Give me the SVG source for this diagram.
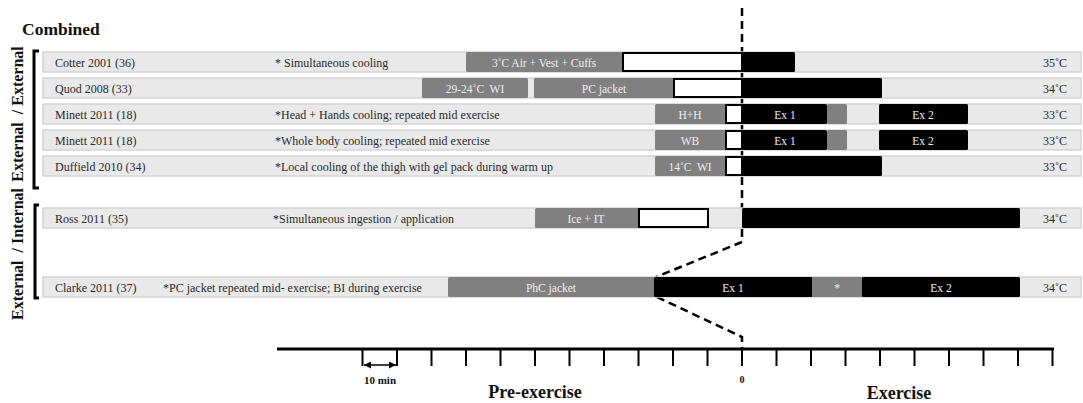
<svg xmlns="http://www.w3.org/2000/svg" width="1083" height="403" viewBox="0 0 1083 403">
<defs>
<style>
.bg{fill:#e9e9e9;stroke:#d4d4d4;stroke-width:1.5}
.g{fill:#808080}
.w{fill:#fff;stroke:#000;stroke-width:2}
.k{fill:#000}
.t{font-family:"Liberation Serif",serif;font-size:12px;fill:#2a2a2a}
.in{font-family:"Liberation Serif",serif;font-size:11.5px;fill:#eeeeee;text-anchor:middle}
.tmp{font-family:"Liberation Serif",serif;font-size:12px;fill:#2a2a2a}
.b{font-family:"Liberation Serif",serif;font-weight:bold;fill:#111}
.dash{fill:none;stroke:#000;stroke-width:2.5;stroke-dasharray:8 5}
.ax{stroke:#000;fill:none}
.br{fill:none;stroke:#000;stroke-width:3}
</style>
<marker id="ah" viewBox="0 0 10 10" refX="10" refY="5" markerWidth="7" markerHeight="7" markerUnits="userSpaceOnUse" orient="auto-start-reverse">
<path d="M0,0 L10,5 L0,10 z" fill="#000"/>
</marker>
</defs>
<rect width="1083" height="403" fill="#fff"/>

<text class="b" x="22" y="35" font-size="17.5">Combined</text>

<g id="group-ext-ext">
<path class="br" d="M39,51 H34 V188 H39"/>
<text class="b" font-size="16" text-anchor="middle" xml:space="preserve" transform="translate(23,114) rotate(-90)">External  / External</text>
</g>
<g id="group-ext-int">
<path class="br" d="M39,205 H35 V298 H39"/>
<text class="b" font-size="16" text-anchor="middle" xml:space="preserve" transform="translate(23,254) rotate(-90)">External  / Internal</text>
</g>

<g id="connectors">
<path class="dash" d="M742,8 V242 L656,277"/>
<path class="dash" d="M657,297 L742,337 V349"/>
</g>

<g id="row-cotter">
<rect class="bg" x="43" y="52" width="1038" height="20"/>
<text class="t" x="55" y="66.5">Cotter 2001 (36)</text>
<text class="t" x="275" y="66.5">* Simultaneous cooling</text>
<rect class="g" x="466" y="52" width="156" height="20" rx="1.5"/>
<text class="in" x="544" y="66.5">3˚C Air + Vest + Cuffs</text>
<rect class="w" x="623" y="53" width="119" height="18"/>
<rect class="k" x="742" y="52" width="53" height="20" rx="1.5"/>
<text class="tmp" x="1043" y="66.5">35˚C</text>
</g>

<g id="row-quod">
<rect class="bg" x="43" y="78" width="1038" height="20"/>
<text class="t" x="55" y="92.5">Quod 2008 (33)</text>
<rect class="g" x="422" y="78" width="106" height="20" rx="1.5"/>
<text class="in" x="475" y="92.5" xml:space="preserve">29-24˚C  WI</text>
<rect class="g" x="534" y="78" width="140" height="20" rx="1.5"/>
<text class="in" x="604" y="92.5">PC jacket</text>
<rect class="w" x="674" y="79" width="68" height="18"/>
<rect class="k" x="742" y="78" width="140" height="20" rx="1.5"/>
<text class="tmp" x="1043" y="92.5">34˚C</text>
</g>

<g id="row-minett-hh">
<rect class="bg" x="43" y="104" width="1038" height="20"/>
<text class="t" x="55" y="118.5">Minett 2011 (18)</text>
<text class="t" x="275" y="118.5">*Head + Hands cooling; repeated mid exercise</text>
<rect class="g" x="655" y="104" width="71" height="20" rx="1.5"/>
<text class="in" x="690" y="118.5">H+H</text>
<rect class="w" x="726" y="105" width="16" height="18"/>
<rect class="k" x="742" y="104" width="85" height="20" rx="1.5"/>
<text class="in" x="785" y="118.5">Ex 1</text>
<rect class="g" x="827" y="104" width="20" height="20" rx="1.5"/>
<rect class="k" x="879" y="104" width="89" height="20" rx="1.5"/>
<text class="in" x="923" y="118.5">Ex 2</text>
<text class="tmp" x="1043" y="118.5">33˚C</text>
</g>

<g id="row-minett-wb">
<rect class="bg" x="43" y="130" width="1038" height="20"/>
<text class="t" x="55" y="144.5">Minett 2011 (18)</text>
<text class="t" x="275" y="144.5">*Whole body cooling; repeated mid exercise</text>
<rect class="g" x="655" y="130" width="71" height="20" rx="1.5"/>
<text class="in" x="690" y="144.5">WB</text>
<rect class="w" x="726" y="131" width="16" height="18"/>
<rect class="k" x="742" y="130" width="85" height="20" rx="1.5"/>
<text class="in" x="785" y="144.5">Ex 1</text>
<rect class="g" x="827" y="130" width="20" height="20" rx="1.5"/>
<rect class="k" x="879" y="130" width="89" height="20" rx="1.5"/>
<text class="in" x="923" y="144.5">Ex 2</text>
<text class="tmp" x="1043" y="144.5">33˚C</text>
</g>

<g id="row-duffield">
<rect class="bg" x="43" y="156" width="1038" height="20"/>
<text class="t" x="55" y="170.5">Duffield 2010 (34)</text>
<text class="t" x="275" y="170.5">*Local cooling of the thigh with gel pack during warm up</text>
<rect class="g" x="655" y="156" width="71" height="20" rx="1.5"/>
<text class="in" x="690" y="170.5" xml:space="preserve">14˚C  WI</text>
<rect class="w" x="726" y="157" width="16" height="18"/>
<rect class="k" x="742" y="156" width="140" height="20" rx="1.5"/>
<text class="tmp" x="1043" y="170.5">33˚C</text>
</g>

<g id="row-ross">
<rect class="bg" x="43" y="208" width="1038" height="20"/>
<text class="t" x="55" y="222.5">Ross 2011 (35)</text>
<text class="t" x="273" y="222.5">*Simultaneous ingestion / application</text>
<rect class="g" x="535" y="208" width="104" height="20" rx="1.5"/>
<text class="in" x="586" y="222.5">Ice + IT</text>
<rect class="w" x="639" y="209" width="69" height="18"/>
<rect class="k" x="742" y="208" width="278" height="20" rx="1.5"/>
<text class="tmp" x="1043" y="222.5">34˚C</text>
</g>

<g id="row-clarke">
<rect class="bg" x="43" y="277" width="1038" height="20"/>
<text class="t" x="55" y="291.5">Clarke 2011 (37)</text>
<text class="t" x="163" y="291.5">*PC jacket repeated mid- exercise; BI during exercise</text>
<rect class="g" x="448" y="277" width="207" height="20" rx="1.5"/>
<text class="in" x="551" y="291.5">PhC jacket</text>
<rect class="k" x="654" y="277" width="159" height="20" rx="1.5"/>
<text class="in" x="733" y="291.5">Ex 1</text>
<rect class="g" x="812" y="277" width="52" height="20"/>
<text class="in" x="837" y="291.5">*</text>
<rect class="k" x="862" y="277" width="158" height="20" rx="1.5"/>
<text class="in" x="941" y="291.5">Ex 2</text>
<text class="tmp" x="1043" y="291.5">34˚C</text>
</g>

<g id="time-axis">
<line class="ax" x1="277" y1="349" x2="1054" y2="349" stroke-width="3"/>
<path class="ax" stroke-width="2" d="M362.5,349 V366 M397,349 V366 M431.5,349 V366 M466,349 V366 M500.5,349 V366 M535,349 V366 M569.5,349 V366 M604,349 V366 M638.5,349 V366 M673,349 V366 M707.5,349 V366 M742,349 V366 M776.5,349 V366 M811,349 V366 M845.5,349 V366 M880,349 V366 M914.5,349 V366 M949,349 V366 M983.5,349 V366 M1018,349 V366 M1052.5,349 V366"/>
<line class="ax" x1="364" y1="365" x2="396" y2="365" stroke-width="1.5" marker-start="url(#ah)" marker-end="url(#ah)"/>
<text class="b" x="380" y="384" font-size="11" text-anchor="middle">10 min</text>
<text class="b" x="742" y="383" font-size="10" text-anchor="middle">0</text>
<text class="b" x="535" y="398" font-size="18" text-anchor="middle">Pre-exercise</text>
<text class="b" x="899" y="399" font-size="18" text-anchor="middle">Exercise</text>
</g>
</svg>
